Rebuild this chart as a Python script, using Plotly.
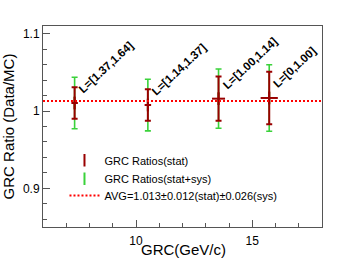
import plotly.graph_objects as go

# ---- data ----
grc = [7.36, 10.51, 13.55, 15.73]
ratio = [1.0104, 1.0078, 1.0160, 1.0169]
err_stat = [0.0205, 0.0205, 0.0286, 0.0340]
err_tot = [0.0333, 0.0334, 0.0383, 0.0430]
xerr = [0.14, 0.14, 0.28, 0.37]
labels = ["L=[1.37,1.64]", "L=[1.14,1.37]", "L=[1.00,1.14]", "L=[0,1.00]"]
avg = 1.013
x_range = [6, 18]
y_range = [0.85, 1.11]

RED = "#990000"
GREEN = "#3ad23a"
FONT = "Liberation Sans, Arial, Helvetica, sans-serif"

fig = go.Figure()

# stat+sys (green) behind
fig.add_trace(go.Scatter(
    x=grc, y=ratio, mode="markers", name="GRC Ratios(stat+sys)", legend="legend2",
    marker=dict(symbol="line-ns-open", size=9, color=GREEN, line=dict(width=2, color=GREEN)),
    error_y=dict(type="data", array=err_tot, color=GREEN, thickness=1.6, width=3),
))
# stat (dark red)
fig.add_trace(go.Scatter(
    x=grc, y=ratio, mode="markers", name="GRC Ratios(stat)", legend="legend",
    marker=dict(symbol="line-ns-open", size=9, color=RED, line=dict(width=2, color=RED)),
    error_y=dict(type="data", array=err_stat, color=RED, thickness=2, width=3),
    error_x=dict(type="data", array=xerr, color=RED, thickness=2, width=0),
))
# average line
fig.add_trace(go.Scatter(
    x=x_range, y=[avg, avg], mode="lines", legend="legend3",
    name="AVG=1.013\u00b10.012(stat)\u00b10.026(sys)",
    line=dict(color="#ff0000", width=2, dash="2px,2px"),
))

for xi, yi, lab in zip(grc, ratio, labels):
    fig.add_annotation(
        x=xi, y=yi, text=lab, showarrow=False, textangle=-43,
        xanchor="left", yanchor="bottom", xshift=-1, yshift=5,
        font=dict(family=FONT, size=11.5, color="black", weight="bold"),
    )

# x-axis title placed as annotation below tick labels
fig.add_annotation(
    x=0.5, y=0, xref="paper", yref="paper", text="GRC(GeV/c)", showarrow=False,
    xanchor="center", yanchor="middle", yshift=-22, xshift=1,
    font=dict(family=FONT, size=15, color="black"),
)

axis_common = dict(
    showgrid=False, zeroline=False, showline=True, linecolor="#555", linewidth=1,
    mirror=True, ticks="inside", ticklen=7, tickcolor="#555", tickwidth=1,
    tickfont=dict(family=FONT, size=12, color="black"), automargin=False,
)

fig.update_xaxes(
    range=x_range, dtick=5, tick0=0, **axis_common,
    minor=dict(dtick=1, ticklen=4, tickcolor="#555", ticks="inside"),
    ticklabelstandoff=3,
)
fig.update_yaxes(
    range=y_range, dtick=0.1, tick0=0, **axis_common,
    minor=dict(dtick=0.02, ticklen=4, tickcolor="#555", ticks="inside"),
    title=dict(text="GRC Ratio (Data/MC)", font=dict(family=FONT, size=15, color="black"), standoff=4),
)

leg_common = dict(
    xanchor="left", yanchor="middle", bgcolor="rgba(0,0,0,0)",
    font=dict(family=FONT, size=11, color="black"), itemwidth=30,
)
fig.update_layout(
    width=357, height=258,
    margin=dict(l=43, r=35, t=26, b=31),
    plot_bgcolor="white", paper_bgcolor="white",
    showlegend=True,
    legend=dict(x=0.077, y=0.332, **leg_common),
    legend2=dict(x=0.077, y=0.24, **leg_common),
    legend3=dict(x=0.077, y=0.157, **leg_common),
)

fig.write_html("out.html", post_script="document.body.style.margin='0';",
               config={"displayModeBar": False})
